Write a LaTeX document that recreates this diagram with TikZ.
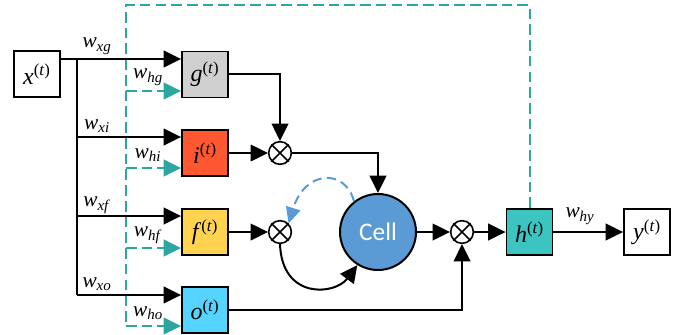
\documentclass[tikz,border=0pt]{standalone}
\usepackage{fontspec}
\setmainfont{Liberation Serif}
\newfontfamily\cellfont{Carlito}
\usetikzlibrary{arrows.meta,calc}
\definecolor{gateg}{RGB}{208,208,208}
\definecolor{gatei}{RGB}{255,88,48}
\definecolor{gatef}{RGB}{255,210,80}
\definecolor{gateo}{RGB}{85,212,255}
\definecolor{gateh}{RGB}{60,196,192}
\definecolor{tealdash}{RGB}{42,168,160}
\definecolor{cellblue}{RGB}{91,155,213}
\newcommand{\wlab}[1]{\textit{w}\textsubscript{\textit{#1}}}
\newcommand{\gl}[1]{\textit{#1}\textsuperscript{(\textit{t})}}
\begin{document}
\begin{tikzpicture}[x=0.75pt,y=-0.75pt,
  box/.style={draw=black,line width=1.4pt,minimum width=34.5pt,minimum height=34.5pt,inner sep=0pt,font=\fontsize{18}{20}\selectfont},
  mult/.style={draw=black,line width=1.2pt,circle,minimum size=17pt,inner sep=0pt,fill=white},
  line/.style={line width=1.5pt,draw=black},
  arr/.style={line width=1.5pt,draw=black,-{Triangle[length=13pt,width=12.5pt]}},
  tdash/.style={line width=1.5pt,draw=tealdash,dash pattern=on 8pt off 3.8pt},
  tarr/.style={line width=1.5pt,draw=tealdash,dash pattern=on 8pt off 3.8pt,-{Triangle[length=13pt,width=12.5pt,fill=tealdash]}},
  wl/.style={font=\fontsize{16}{18}\selectfont,inner sep=0pt}
]
\useasboundingbox (0,0) rectangle (688,335);

% boxes
\node[box,fill=white]  (x) at (37,74) {\gl{x}};
\node[box,fill=gateg] (g) at (205,74.5) {\gl{g}};
\node[box,fill=gatei] (i) at (205,153) {\gl{i}};
\node[box,fill=gatef] (f) at (205,232) {\gl{f}};
\node[box,fill=gateo] (o) at (205,310) {\gl{o}};
\node[box,fill=gateh] (h) at (529.5,232) {\gl{h}};
\node[box,fill=white] (y) at (647,232) {\gl{y}};

\node[circle,draw=black,line width=1.5pt,fill=cellblue,minimum size=57pt,inner sep=0pt,text=white,font=\cellfont\fontsize{19}{21}\selectfont] (cell) at (378,232) {Cell};

\node[mult] (m1) at (280,153) {};
\node[mult] (m2) at (280,232) {};
\node[mult] (m3) at (462,232) {};
\foreach \m in {m1,m2,m3}{
  \draw[line width=1.2pt] (\m.north west) -- (\m.south east);
  \draw[line width=1.2pt] (\m.north east) -- (\m.south west);
}

% trunk coordinates
\coordinate (j0) at (77,59);
\coordinate (j1) at (77,137);
\coordinate (j2) at (77,216);
\coordinate (j3) at (77,295);
\coordinate (d0) at (126,5);
\coordinate (d1) at (126,91);
\coordinate (d2) at (126,168);
\coordinate (d3) at (126,248);
\coordinate (d4) at (126,326);

% dashed recurrent line
\draw[tdash] (h.north) -- (h.north |- d0) -- (d0) -- (d4);
\draw[tarr] (d1) -- (g.west |- d1);
\draw[tarr] (d2) -- (i.west |- d2);
\draw[tarr] (d3) -- (f.west |- d3);
\draw[tarr] (d4) -- (o.west |- d4);

% input lines
\draw[line] (x.east |- j0) -- (j0);
\draw[line] (j0) -- (j3);
\draw[arr] (j0) -- (g.west |- j0);
\draw[arr] (j1) -- (i.west |- j1);
\draw[arr] (j2) -- (f.west |- j2);
\draw[arr] (j3) -- (o.west |- j3);

% labels
\node[wl] at (97,46) {\wlab{xg}};
\node[wl] at (97,126) {\wlab{xi}};
\node[wl] at (97,205) {\wlab{xf}};
\node[wl] at (97,284) {\wlab{xo}};
\node[wl] at (148,77) {\wlab{hg}};
\node[wl] at (148,155) {\wlab{hi}};
\node[wl] at (148,235) {\wlab{hf}};
\node[wl] at (148,313) {\wlab{ho}};
\node[wl] at (580,216) {\wlab{hy}};

% gate outputs
\draw[arr] (g.east) -| (m1.north);
\draw[arr] (i.east) -- (m1.west);
\draw[arr] (m1.east) -| (cell.north);
\draw[arr] (f.east) -- (m2.west);
\draw[arr] (cell.east) -- (m3.west);
\draw[arr] (o.east) -| (m3.south);
\draw[arr] (m3.east) -- (h.west);
\draw[arr] (h.east) -- (y.west);

% cell loops
\draw[arr] (m2.south) .. controls (282,300) and (335,295) .. (cell.238);
\draw[line width=1.5pt,draw=cellblue,dash pattern=on 7pt off 4pt,-{Triangle[length=12pt,width=11pt,fill=cellblue]}]
  (cell.128) .. controls (345,168) and (305,170) .. (m2.north east);
\end{tikzpicture}
\end{document}
